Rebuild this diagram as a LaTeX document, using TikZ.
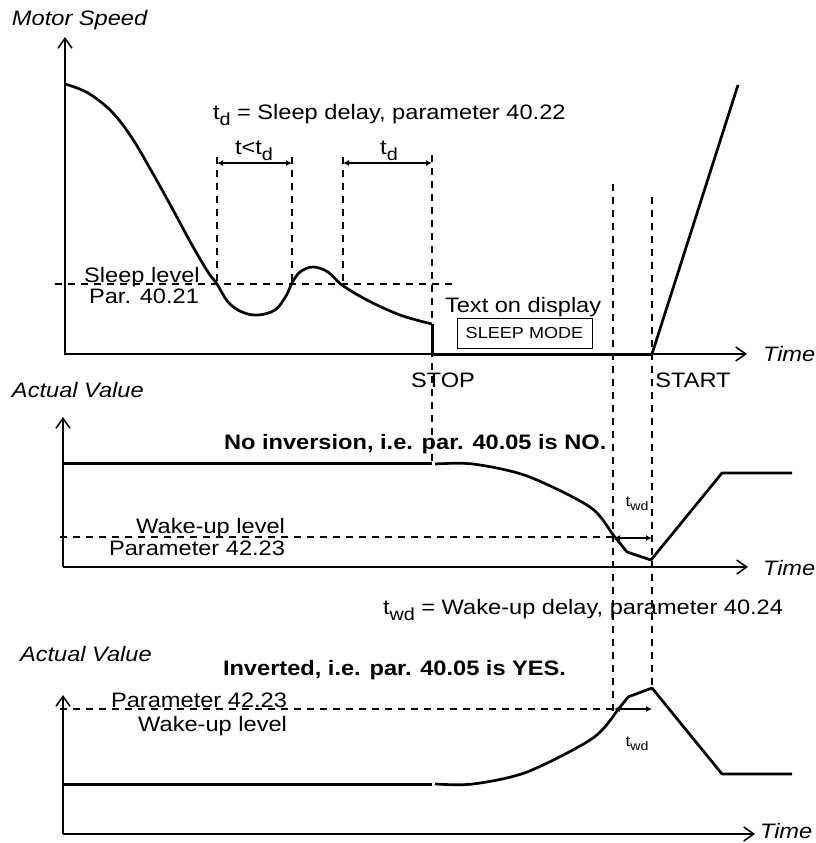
\documentclass[tikz,border=0pt]{standalone}
\usepackage{fontspec}
\setmainfont{Liberation Sans}[FakeStretch=1.13]
\usetikzlibrary{arrows.meta}
\newcommand\sbs[1]{\raisebox{-0.3em}{\fontsize{17.5pt}{17.5pt}\selectfont #1}}
\newcommand\ssbs[1]{\raisebox{-0.3em}{\fontsize{12.5pt}{12.5pt}\selectfont #1}}
\begin{document}
\begin{tikzpicture}[x=1pt,y=-1pt,
  every node/.style={inner sep=0pt,outer sep=0pt},
  axis/.style={line width=1.5pt,-{Straight Barb[length=10pt,width=14pt]}},
  curve/.style={line width=2.7pt,line join=round},
  flat/.style={line width=3pt},
  dsh/.style={line width=1.6pt,dash pattern=on 7pt off 6pt},
  dim/.style={line width=1.6pt,{Latex[length=6pt,width=6pt]}-{Latex[length=6pt,width=6pt]}},
  lbl/.style={font=\fontsize{20.9pt}{23pt}\selectfont},
  ilbl/.style={font=\fontsize{20.9pt}{23pt}\selectfont\itshape},
  blbl/.style={font=\fontsize{20.9pt}{23pt}\selectfont\bfseries},
  slbl/.style={font=\fontsize{16pt}{18pt}\selectfont},
  tlbl/.style={font=\fontsize{15pt}{17pt}\selectfont}]
\useasboundingbox (0,0) rectangle (816,843);
\fill[white] (0,0) rectangle (816,843);

% ---------- top panel ----------
\coordinate (o1) at (65,354);
\coordinate (y1) at (65,37);
\coordinate (x1) at (747,354);
\draw[axis] (o1) -- (y1);
\draw[axis] (64,354) -- (x1);
\node[ilbl,anchor=base west] (ms) at (12,26) {Motor Speed};
\node[ilbl,anchor=base west] (t1) at (763,361) {Time};

\draw[curve] plot[smooth,tension=0.6] coordinates {(65,84) (88,93) (112,112) (132,138) (152,172) (172,208) (192,245) (208,272) (217,284) (228,302) (242,312) (258,315) (275,310) (286,296) (292,283) (300,272) (313,267) (328,272) (342,285) (367,300) (400,315) (432,324)};
\coordinate (stopc) at (432,324);
\coordinate (stop0) at (432,354);
\coordinate (start0) at (652,354);
\coordinate (ramp) at (738,85);
\draw[flat] (stopc) -- (stop0) -- (start0);
\draw[curve] (start0) -- (ramp);

% sleep level
\draw[dsh] (55,284) -- (455,284);
\node[lbl,anchor=base] (sl1) at (142,282) {Sleep level};
\node[lbl,anchor=base] (sl2) at (144,303) {Par. 40.21};

% vertical dashed
\draw[dsh] (217,157) -- (217,283);
\draw[dsh] (292,157) -- (292,283);
\draw[dsh] (343,157) -- (343,285);
\draw[dsh] (432,155) -- (432,467);
\draw[dsh] (613,184) -- (613,712);
\draw[dsh] (652,197) -- (652,688);

% delay arrows
\coordinate (a1) at (217,163); \coordinate (a2) at (292,163);
\coordinate (a3) at (343,163); \coordinate (a4) at (432,163);
\draw[dim] (a1) -- (a2);
\draw[dim] (a3) -- (a4);
\node[lbl,anchor=base] (ltd1) at (254,154) {t<t\sbs{d}};
\node[lbl,anchor=base] (ltd2) at (389,154) {t\sbs{d}};
\node[lbl,anchor=base west] (tdef) at (213,119) {t\sbs{d} = Sleep delay, parameter 40.22};

\node[lbl,anchor=base west] (tod) at (445,312) {Text on display};
\node[draw,line width=0.8pt,minimum width=135pt,minimum height=30pt,slbl] (sm) at (524.5,333) {SLEEP MODE};

\node[lbl,anchor=base] (stop) at (443,387) {STOP};
\node[lbl,anchor=base] (start) at (693,387) {START};

% ---------- middle panel ----------
\coordinate (o2) at (63,567);
\coordinate (y2) at (63,417);
\coordinate (x2) at (748,567);
\draw[axis] (o2) -- (y2);
\draw[axis] (o2) -- (x2);
\node[ilbl,anchor=base west] (av1) at (12,397) {Actual Value};
\node[ilbl,anchor=base west] (t2) at (763,575) {Time};
\node[blbl,anchor=base west] (noinv) at (224,449) {No inversion, i.e. par. 40.05 is NO.};

\draw[flat] (63,463) -- (432,463);
\draw[curve] plot[smooth,tension=0.5] coordinates {(435,464) (473,464) (527,476) (590,507) (614,536) (627,552)} -- (651,560) -- (722,473) -- (792,473);

\draw[dsh] (60,537) -- (613,537);
\node[lbl,anchor=base east] (wl1) at (285,533) {Wake-up level};
\node[lbl,anchor=base east] (p1) at (285,555) {Parameter 42.23};
\coordinate (b1) at (614,538); \coordinate (b2) at (652,538);
\draw[dim] (b1) -- (b2);
\node[tlbl,anchor=base] (twd1) at (637,506) {t\ssbs{wd}};
\node[lbl,anchor=base west] (twdef) at (383,614) {t\sbs{wd} = Wake-up delay, parameter 40.24};

% ---------- bottom panel ----------
\coordinate (o3) at (63,834);
\coordinate (y3) at (63,695);
\coordinate (x3) at (755,834);
\draw[axis] (o3) -- (y3);
\draw[axis] (o3) -- (x3);
\node[ilbl,anchor=base west] (av2) at (20,661) {Actual Value};
\node[ilbl,anchor=base west] (t3) at (760,838) {Time};
\node[blbl,anchor=base west] (inv) at (223,675) {Inverted, i.e. par. 40.05 is YES.};

\draw[flat] (63,784) -- (432,784);
\draw[curve] plot[smooth,tension=0.5] coordinates {(435,784) (473,784) (527,772) (593,738) (620,707) (628,697)} -- (652,688) -- (722,774) -- (792,774);

\draw[dsh] (60,709) -- (613,709);
\node[lbl,anchor=base east] (p2) at (287,707) {Parameter 42.23};
\node[lbl,anchor=base east] (wl2) at (287,731) {Wake-up level};
\coordinate (c1) at (614,709); \coordinate (c2) at (652,709);
\draw[dim] (c1) -- (c2);
\node[tlbl,anchor=base] (twd2) at (637,746) {t\ssbs{wd}};
\end{tikzpicture}
\end{document}
